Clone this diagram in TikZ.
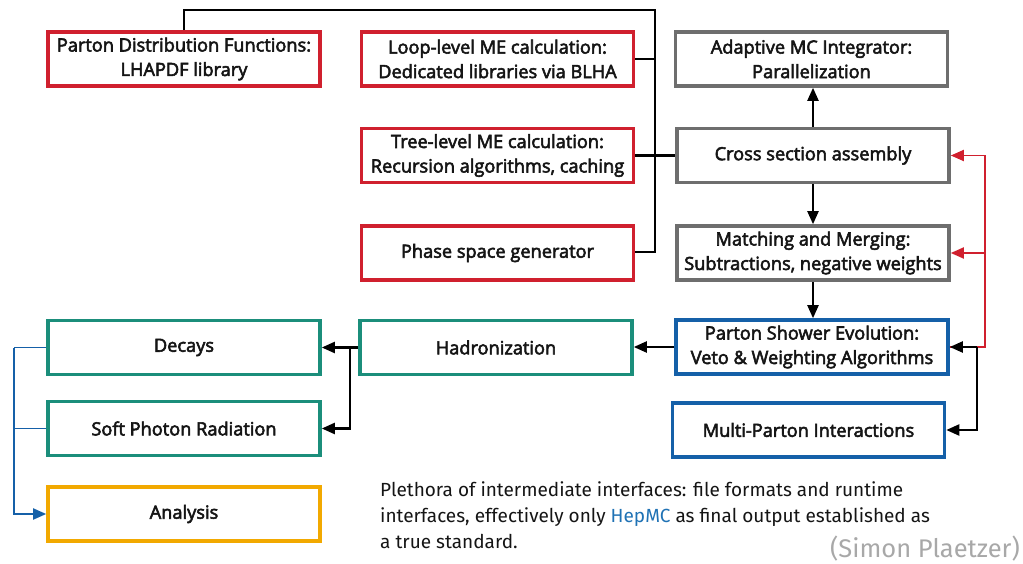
\documentclass[tikz,border=0pt]{standalone}
\usepackage{fontspec}
\setmainfont{Open Sans}
\newfontfamily\boxfont{Open Sans}[FakeBold=3]
\newfontfamily\notefont{Fira Sans}
\usetikzlibrary{arrows.meta}
\definecolor{cred}{HTML}{D0202E}
\definecolor{cgray}{HTML}{6E6E6E}
\definecolor{cteal}{HTML}{1B8E7B}
\definecolor{cblue}{HTML}{1560A8}
\definecolor{corange}{HTML}{F2A900}
\definecolor{chep}{HTML}{1F72B5}
\definecolor{csig}{HTML}{A8A8A8}
\definecolor{ctext}{HTML}{151515}
\begin{document}
\begin{tikzpicture}[x=1pt,y=-1pt,
  box/.style={draw, line width=3.6pt, fill=white, minimum width=272pt, minimum height=54pt,
    inner sep=0pt, align=center, text=ctext, font=\boxfont\fontsize{18.2}{24.5}\selectfont},
  redbox/.style={box, draw=cred},
  graybox/.style={box, draw=cgray},
  bluebox/.style={box, draw=cblue},
  tealbox/.style={box, draw=cteal},
  orangebox/.style={box, draw=corange},
  conn/.style={line width=2.2pt, black},
  tip/.style={-{Triangle[length=13pt,width=11pt]}},
  redconn/.style={line width=1.8pt, cred},
  blueconn/.style={line width=1.8pt, cblue}]
\useasboundingbox (0,0) rectangle (1023,564);
\fill[white] (0,0) rectangle (1023,564);

% nodes
\node[redbox] (pdf) at (184,59) {Parton Distribution Functions:\\LHAPDF library};
\node[redbox] (loop) at (497.5,59) {Loop-level ME calculation:\\Dedicated libraries via BLHA};
\node[redbox] (tree) at (497.5,155.5) {Tree-level ME calculation:\\Recursion algorithms, caching};
\node[redbox] (phase) at (497.5,253) {Phase space generator};
\node[graybox] (amc) at (811.5,59) {Adaptive MC Integrator:\\Parallelization};
\node[graybox] (xsec) at (813,155.5) {Cross section assembly};
\node[graybox] (match) at (813,253) {Matching and Merging:\\Subtractions, negative weights};
\node[bluebox] (ps) at (812,347) {Parton Shower Evolution:\\Veto \& Weighting Algorithms};
\node[bluebox] (mpi) at (808.5,430) {Multi-Parton Interactions};
\node[tealbox] (had) at (496,347.5) {Hadronization};
\node[tealbox] (dec) at (184,347.5) {Decays};
\node[tealbox] (soft) at (184,428.5) {Soft Photon Radiation};
\node[orangebox] (ana) at (184,514) {Analysis};

% bus on top
\coordinate (bustop) at (655,10);
\coordinate (busbot) at (655,252);
\draw[conn] (pdf.north) -- (pdf.north |- bustop) -- (bustop) -- (busbot) -- (phase.east |- busbot);
\draw[conn] (loop.east) -- (loop.east -| bustop);
\draw[conn] (tree.east) -- (xsec.west);

% vertical chain
\draw[conn, tip] (xsec.north) -- (amc.south -| xsec.north);
\draw[conn, tip] (xsec.south) -- (match.north);
\draw[conn, tip] (match.south) -- (ps.north -| match.south);
\draw[conn, tip] (ps.west) -- (had.east |- ps.west);

% red feedback
\coordinate (rtop) at (985,155.5);
\draw[redconn] (ps.east) -- (ps.east -| rtop) -- (rtop);
\draw[redconn, tip] (rtop) -- (xsec.east);
\draw[redconn, tip] (match.east -| rtop) -- (match.east);

% PS <-> MPI
\coordinate (pm) at (977,347);
\draw[conn, tip] (pm) -- (ps.east);
\draw[conn, tip] (pm) -- (pm |- mpi.east) -- (mpi.east);

% hadronization fan out
\coordinate (hs) at (350,347.5);
\draw[conn, tip] (had.west) -- (dec.east);
\draw[conn, tip] (hs) -- (hs |- soft.east) -- (soft.east);

% blue to analysis
\coordinate (bl) at (14,347.5);
\draw[blueconn] (dec.west) -- (bl);
\draw[blueconn] (soft.west) -- (soft.west -| bl);
\draw[blueconn, tip] (bl) -- (bl |- ana.west) -- (ana.west);

% note
\node[anchor=north west, align=left, inner sep=0pt, text=ctext, font=\notefont\fontsize{19}{26}\selectfont] (note) at (380,481)
 {Plethora of intermediate interfaces: file formats and runtime\\
  interfaces, effectively only \textcolor{chep}{HepMC} as final output established as\\
  a true standard.};
\node[anchor=base east, inner sep=0pt, text=csig, font=\notefont\fontsize{25.5}{28}\selectfont] (sig) at (1020,557) {(Simon Plaetzer)};
\end{tikzpicture}
\end{document}
